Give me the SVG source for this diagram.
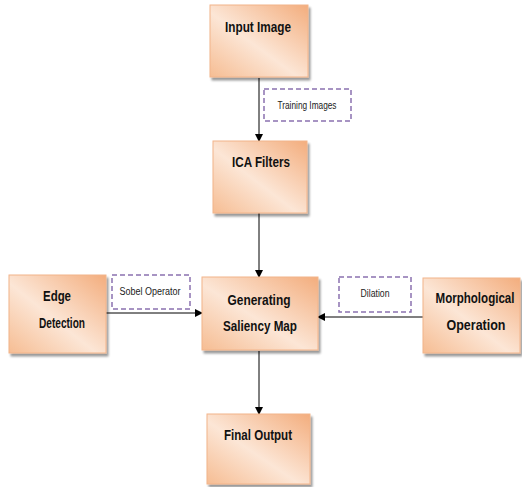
<svg xmlns="http://www.w3.org/2000/svg" width="522" height="487" viewBox="0 0 522 487">
<defs>
<linearGradient id="g" x1="0" y1="1" x2="1" y2="0">
<stop offset="0" stop-color="#f6bd93"/>
<stop offset="0.45" stop-color="#fce6d6"/>
<stop offset="1" stop-color="#f3ad7d"/>
</linearGradient>
<marker id="ah" markerWidth="8" markerHeight="8" refX="7" refY="4" orient="auto" markerUnits="userSpaceOnUse">
<path d="M0,0 L8,4 L0,8 Z" fill="#000"/>
</marker>
<filter id="sh" x="-10%" y="-10%" width="130%" height="130%">
<feGaussianBlur in="SourceAlpha" stdDeviation="1"/>
<feOffset dx="2" dy="3" result="o"/>
<feComponentTransfer><feFuncA type="linear" slope="0.4"/></feComponentTransfer>
<feMerge><feMergeNode/><feMergeNode in="SourceGraphic"/></feMerge>
</filter>
</defs>
<style>
.box{fill:url(#g);stroke:#f2b48a;stroke-width:1;filter:url(#sh)}
.t{font-family:"Liberation Sans Narrow","Liberation Sans",sans-serif;font-weight:bold;font-size:15.5px;fill:#111;text-anchor:middle}
.lb{fill:#fff;stroke:#8a72b0;stroke-width:1.5;stroke-dasharray:5,3}
.s{font-family:"Liberation Sans Narrow","Liberation Sans",sans-serif;font-size:10px;fill:#222;text-anchor:middle}
.c{stroke:#000;stroke-width:1;fill:none;marker-end:url(#ah)}
</style>
<g id="connectors">
<line class="c" x1="259" y1="78" x2="259" y2="141"/>
<line class="c" x1="259" y1="213" x2="259" y2="277"/>
<line class="c" x1="106" y1="313" x2="202" y2="313"/>
<line class="c" x1="423" y1="317" x2="318" y2="317"/>
<line class="c" x1="259" y1="351" x2="259" y2="414"/>
</g>
<g id="training-images">
<rect class="lb" x="264" y="89" width="87" height="32"/>
<text class="s" x="307" y="109" textLength="59" lengthAdjust="spacingAndGlyphs">Training Images</text>
</g>
<g id="sobel-operator">
<rect class="lb" x="112" y="275" width="78" height="34"/>
<text class="s" x="150" y="295" textLength="61" lengthAdjust="spacingAndGlyphs">Sobel Operator</text>
</g>
<g id="dilation">
<rect class="lb" x="339" y="277" width="72" height="35"/>
<text class="s" x="375" y="297" textLength="29" lengthAdjust="spacingAndGlyphs">Dilation</text>
</g>
<g id="input-image">
<rect class="box" x="210" y="5" width="98" height="72"/>
<text class="t" x="258" y="32" textLength="66" lengthAdjust="spacingAndGlyphs">Input Image</text>
</g>
<g id="ica-filters">
<rect class="box" x="213" y="141" width="94" height="72"/>
<text class="t" x="261" y="167" textLength="58" lengthAdjust="spacingAndGlyphs">ICA Filters</text>
</g>
<g id="edge-detection">
<rect class="box" x="9" y="275" width="97" height="78"/>
<text class="t" x="57" y="301" textLength="28" lengthAdjust="spacingAndGlyphs">Edge</text>
<text class="t" x="62" y="328" textLength="46" lengthAdjust="spacingAndGlyphs">Detection</text>
</g>
<g id="generating-saliency-map">
<rect class="box" x="202" y="277" width="116" height="73"/>
<text class="t" x="259" y="305" textLength="63" lengthAdjust="spacingAndGlyphs">Generating</text>
<text class="t" x="260" y="331" textLength="74" lengthAdjust="spacingAndGlyphs">Saliency Map</text>
</g>
<g id="morphological-operation">
<rect class="box" x="423" y="278" width="97" height="75"/>
<text class="t" x="475" y="303" textLength="79" lengthAdjust="spacingAndGlyphs">Morphological</text>
<text class="t" x="476" y="330" textLength="59" lengthAdjust="spacingAndGlyphs">Operation</text>
</g>
<g id="final-output">
<rect class="box" x="207" y="414" width="103" height="70"/>
<text class="t" x="258" y="440" textLength="68" lengthAdjust="spacingAndGlyphs">Final Output</text>
</g>
</svg>
